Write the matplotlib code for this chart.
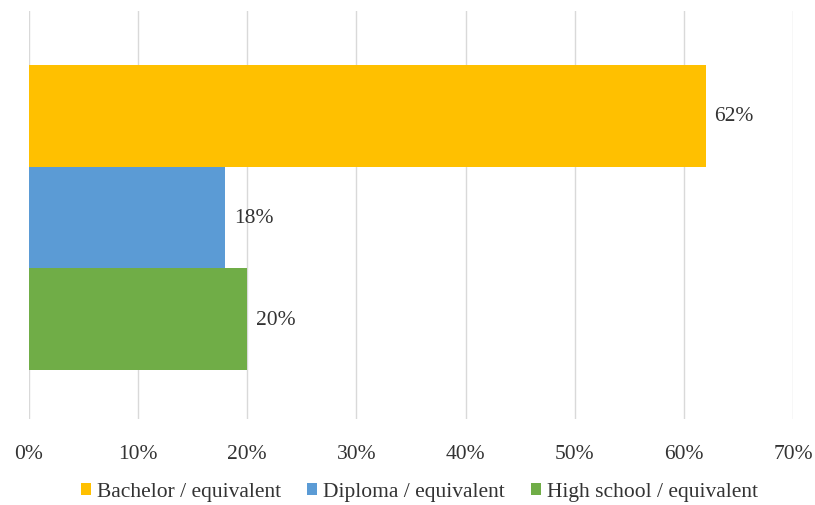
import matplotlib
matplotlib.use("Agg")
import matplotlib.pyplot as plt
from matplotlib.ticker import FuncFormatter

series = ["Bachelor / equivalent", "Diploma / equivalent", "High school / equivalent"]
values = [62, 18, 20]
colors = ["#FFC000", "#5B9BD5", "#70AD47"]
xticks = [0, 10, 20, 30, 40, 50, 60, 70]

plt.rcParams['font.family'] = ['Liberation Serif', 'DejaVu Serif']

fig = plt.figure(figsize=(8.15, 5.06), dpi=100)
ax = fig.add_axes([29/815, 1 - 420/506, (793 - 29)/815, (420 - 12)/506])

for i, (s, v, c) in enumerate(zip(series, values, colors)):
    ax.barh(i, v, height=1.0, color=c, label=s, zorder=3)
    ax.text(v + 0.8, i, f"{v}%", va="center", ha="left", fontsize=15.5, color="#333333", zorder=4)

ax.set_xlim(0, 70)
ax.set_ylim(2.98, -1.03)
ax.set_xticks(xticks)
ax.xaxis.set_major_formatter(FuncFormatter(lambda x, p: f"{int(x)}%"))
ax.set_yticks([])
ax.grid(axis="x", color="#D9D9D9", linewidth=1, zorder=0)
for sp in ax.spines.values():
    sp.set_visible(False)
ax.tick_params(axis="x", length=0, pad=18, labelsize=15.5, labelcolor="#333333")

leg = fig.legend(loc="center", bbox_to_anchor=(0.515, 1 - 493/506), ncol=3, frameon=False,
                 fontsize=15.5, handlelength=0.45, handleheight=0.45, handletextpad=0.3,
                 columnspacing=1.2, labelcolor="#333333")
fig.savefig("out.png", dpi=100)
